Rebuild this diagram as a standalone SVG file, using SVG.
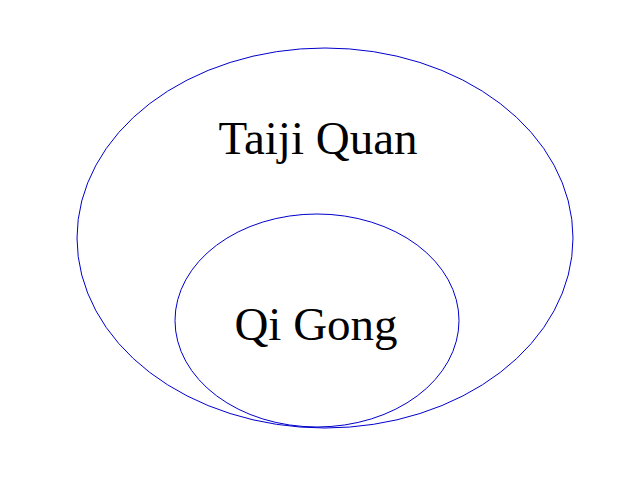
<svg xmlns="http://www.w3.org/2000/svg" width="626" height="481" viewBox="0 0 626 481">
<style>
.c{fill:none;stroke:#0000cc;stroke-width:1}
.t{font-family:"Liberation Serif","Times New Roman",serif;font-size:47px;fill:#000;text-anchor:middle}
</style>
<rect width="626" height="481" fill="#fff"/>
<g id="taiji">
<ellipse class="c" cx="325" cy="238" rx="248" ry="190"/>
<text class="t" x="318" y="154">Taiji Quan</text>
</g>
<g id="qigong">
<ellipse class="c" cx="317" cy="320.5" rx="142" ry="106.5"/>
<text class="t" x="316" y="340">Qi Gong</text>
</g>
<g id="connectors"/>
</svg>
